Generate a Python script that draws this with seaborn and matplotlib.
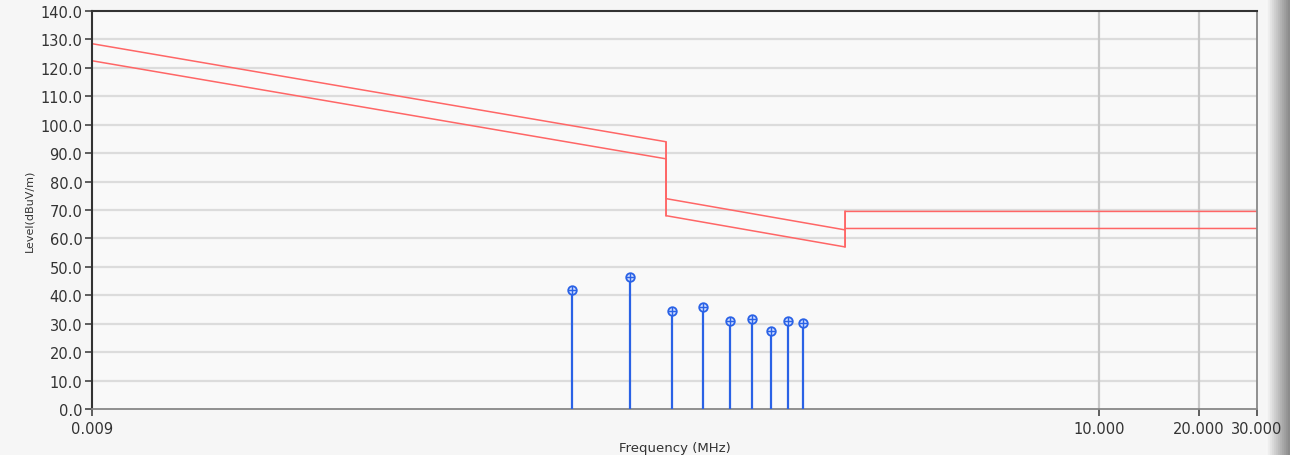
import numpy as np
import pandas as pd
import matplotlib
matplotlib.use('Agg')
import matplotlib.pyplot as plt
import seaborn as sns

# limit lines (MHz, dBuV/m)
limit_freq = [0.009, 0.49, 0.49, 1.705, 1.705, 30.0]
limit_upper = [128.5, 94.0, 74.0, 63.0, 69.5, 69.5]
limit_lower = [122.5, 88.0, 68.0, 57.0, 63.5, 63.5]

# measured peaks
peak_freq = [0.254, 0.381, 0.511, 0.634, 0.765, 0.891, 1.017, 1.145, 1.272]
peak_level = [42.0, 46.5, 34.5, 36.0, 31.0, 31.5, 27.3, 31.0, 30.3]

x_ticks = [0.009, 10, 20, 30]
x_tick_labels = ['0.009', '10.000', '20.000', '30.000']
y_ticks = np.arange(0, 141, 10)

sns.set_style('white')
plt.rcParams['font.family'] = ['DejaVu Sans']

fig = plt.figure(figsize=(12.9, 4.56), dpi=100, facecolor='#f6f6f6')
ax = fig.add_axes([92 / 1290, 46 / 456, 1165 / 1290, 398 / 456])
ax.set_facecolor('#f9f9f9')

red = '#ff6666'
blue = '#2a62e6'

lim = pd.DataFrame({'freq': limit_freq, 'upper': limit_upper, 'lower': limit_lower})
sns.lineplot(data=lim, x='freq', y='upper', sort=False, estimator=None, color=red, lw=1.1, ax=ax)
sns.lineplot(data=lim, x='freq', y='lower', sort=False, estimator=None, color=red, lw=1.1, ax=ax)
ax.plot([0.49, 0.49], [limit_lower[2], limit_upper[1]], color=red, lw=1.1)
ax.plot([1.705, 1.705], [limit_lower[3], limit_upper[4]], color=red, lw=1.1)

pk = pd.DataFrame({'freq': peak_freq, 'level': peak_level})
ax.vlines(pk['freq'], 0, pk['level'], color=blue, lw=1.6, zorder=3)
sns.scatterplot(data=pk, x='freq', y='level', marker='o', s=38, facecolor='#cfdcff',
                edgecolor=blue, linewidth=1.3, ax=ax, zorder=4)
sns.scatterplot(data=pk, x='freq', y='level', marker='+', s=26, color=blue,
                linewidth=1.0, ax=ax, zorder=5)

ax.set_xscale('log')
ax.set_xlim(0.009, 30)
ax.set_ylim(0, 140)
ax.set_xticks(x_ticks)
ax.set_xticklabels(x_tick_labels)
ax.minorticks_off()
ax.set_yticks(y_ticks)
ax.set_yticklabels([f'{v:.1f}' for v in y_ticks])

for y in y_ticks[1:-1]:
    ax.axhline(y, color='#dcdcdc', lw=1.6, zorder=0)
for x in [10, 20]:
    ax.axvline(x, color='#c8c8c8', lw=1.6, zorder=0)

ax.tick_params(axis='both', length=5, width=1.2, color='#444', labelsize=10.5,
               labelcolor='#333', direction='out', pad=2)
ax.tick_params(axis='x', bottom=True, pad=4)
ax.tick_params(axis='y', left=True)

for side in ['left', 'top']:
    ax.spines[side].set_color('#333')
    ax.spines[side].set_linewidth(1.5)
for side in ['right', 'bottom']:
    ax.spines[side].set_color('#888')
    ax.spines[side].set_linewidth(1.3)

ax.set_xlabel('Frequency (MHz)', fontsize=9.5, color='#333', labelpad=3)
ax.set_ylabel('Level(dBuV/m)', fontsize=8, color='#333', labelpad=4)

# window edge shading on the right
for i, c in enumerate(np.linspace(0.97, 0.55, 12)):
    fig.patches.append(plt.Rectangle((1266 / 1290 + i * 2 / 1290, 0), 2 / 1290, 1,
                                     transform=fig.transFigure, color=str(c), zorder=-1))

fig.savefig('out.png', dpi=100, facecolor=fig.get_facecolor())
